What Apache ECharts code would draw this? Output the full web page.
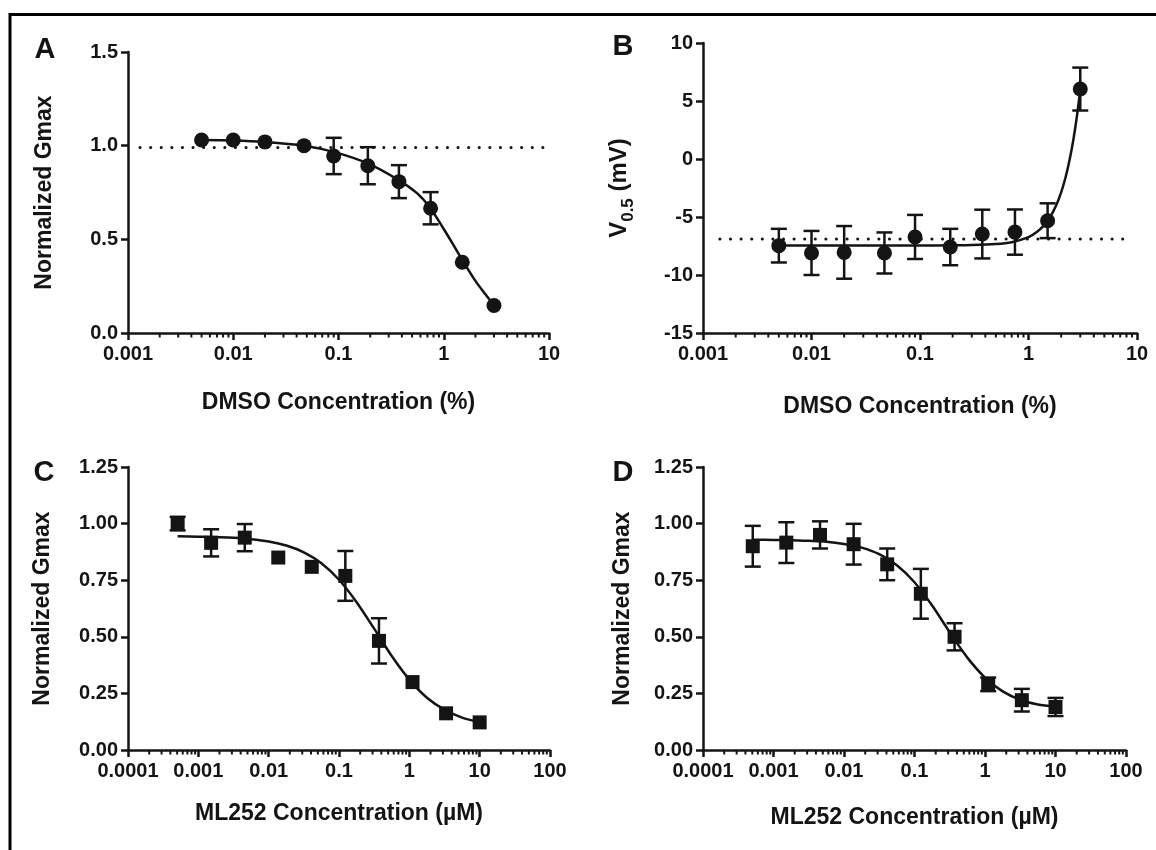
<!DOCTYPE html>
<html><head><meta charset="utf-8">
<script src="https://cdn.jsdelivr.net/npm/echarts@6/dist/echarts.min.js"></script>
<style>html,body{margin:0;padding:0;background:#fff}#c{width:1156px;height:850px}</style>
</head><body><div id="c"></div>
<script>
// ---------- Panel A : DMSO vs normalized Gmax ----------
const dmsoConc = [0.005, 0.01, 0.02, 0.047, 0.09, 0.19, 0.375, 0.75, 1.5, 3];
const gmaxA = [1.03, 1.03, 1.02, 1.0, 0.945, 0.893, 0.808, 0.666, 0.378, 0.147];
const errA = [0, 0, 0, 0, 0.097, 0.099, 0.088, 0.086, 0, 0];
const fitAx = [0.005, 0.01, 0.02, 0.047, 0.09, 0.19, 0.375, 0.56, 0.75, 1.0, 1.25, 1.5, 2.0, 2.5, 3.0];
const fitAy = [1.03, 1.028, 1.02, 1.0, 0.967, 0.905, 0.815, 0.745, 0.665, 0.555, 0.465, 0.39, 0.278, 0.205, 0.148];
const refA = [[0.0013, 0.99], [9.7, 0.99]];
// ---------- Panel B : DMSO vs V0.5 ----------
const v05B = [-7.47, -8.1, -8.05, -8.1, -6.72, -7.59, -6.47, -6.3, -5.32, 6.03];
const errB = [1.45, 1.9, 2.27, 1.77, 1.9, 1.57, 2.1, 1.95, 1.5, 1.85];
const fitBx = [0.005, 0.01, 0.02, 0.05, 0.1, 0.2, 0.3, 0.5, 0.7, 1.0, 1.2, 1.4, 1.6, 1.8, 2.0, 2.2, 2.4, 2.6, 2.8, 3.0];
const fitBy = [-7.45, -7.45, -7.45, -7.45, -7.45, -7.44, -7.42, -7.33, -7.17, -6.73, -6.27, -5.68, -4.92, -3.99, -2.87, -1.55, -0.01, 1.75, 3.75, 6.0];
const refB = [[0.00143, -6.9], [8.8, -6.9]];
// ---------- Panels C, D : ML252 vs normalized Gmax ----------
const mlConc = [0.000508, 0.00152, 0.00457, 0.0137, 0.041, 0.123, 0.37, 1.11, 3.33, 10];
const gmaxC = [1.0, 0.915, 0.938, 0.85, 0.809, 0.769, 0.482, 0.3, 0.162, 0.122];
const errC = [0.03, 0.06, 0.06, 0, 0, 0.11, 0.1, 0, 0, 0];
const fitCDx = [0.000508, 0.001, 0.00178, 0.00316, 0.00562, 0.01, 0.0178, 0.0316, 0.0562, 0.1, 0.178, 0.316, 0.562, 1.0, 1.78, 3.16, 5.62, 10];
const fitCy = [0.944, 0.942, 0.941, 0.937, 0.931, 0.921, 0.903, 0.873, 0.825, 0.752, 0.653, 0.536, 0.415, 0.311, 0.231, 0.178, 0.143, 0.123];
const gmaxD = [0.9, 0.916, 0.95, 0.909, 0.82, 0.69, 0.5, 0.29, 0.22, 0.19];
const errD = [0.09, 0.09, 0.06, 0.09, 0.07, 0.11, 0.06, 0.03, 0.05, 0.04];
const fitDy = [0.929, 0.928, 0.927, 0.924, 0.92, 0.91, 0.894, 0.865, 0.816, 0.741, 0.638, 0.52, 0.408, 0.32, 0.259, 0.222, 0.201, 0.192];
// ---------- axes ----------
const xRangeDMSO = [0.001, 10];
const xRangeML = [0.0001, 100];
const minorMult = [2, 3, 4, 5, 6, 7, 8, 9];
const decadesDMSO = [0.001, 0.01, 0.1, 1];
const decadesML = [0.0001, 0.001, 0.01, 0.1, 1, 10];
const panelLetters = ['A', 'B', 'C', 'D'];
const xTitleDMSO = 'DMSO Concentration (%)';
const xTitleML = 'ML252 Concentration (µM)';
const yTitleG = 'Normalized Gmax';

const INK = '#141414';
const FONT = '"Liberation Sans", Arial, Helvetica, sans-serif';

const grids = [
  {left: 128, top: 52, width: 421, height: 281},
  {left: 703, top: 43, width: 434, height: 290},
  {left: 128, top: 467, width: 422, height: 283},
  {left: 703, top: 467, width: 423, height: 283}
];
const letterPos = [[45, 50], [623, 47], [44, 473], [623, 473]];

function xAxisCfg(gi, range, name, gap) {
  return {
    type: 'log', gridIndex: gi, logBase: 10, min: range[0], max: range[1],
    splitNumber: Math.round(Math.log10(range[1] / range[0])),
    axisLine: {show: true, onZero: false, lineStyle: {color: INK, width: 2.5}},
    axisTick: {show: true, length: 7, lineStyle: {color: INK, width: 2.5}},
    minorTick: {show: false},
    splitLine: {show: false},
    axisLabel: {
      formatter: v => String(+(+v).toPrecision(1)),
      fontSize: 20, fontWeight: 'bold', color: INK, fontFamily: FONT, margin: 11
    },
    name: name, nameLocation: 'middle', nameGap: gap,
    nameTextStyle: {fontSize: 23, fontWeight: 'bold', color: INK, fontFamily: FONT}
  };
}
function yAxisCfg(gi, min, max, interval, dec, name, gap, rich) {
  const c = {
    type: 'value', gridIndex: gi, min: min, max: max, interval: interval,
    axisLine: {show: true, onZero: false, lineStyle: {color: INK, width: 2.5}},
    axisTick: {show: true, length: 7, lineStyle: {color: INK, width: 2.5}},
    splitLine: {show: false},
    axisLabel: {
      formatter: v => v.toFixed(dec),
      fontSize: 20, fontWeight: 'bold', color: INK, fontFamily: FONT, margin: 10
    },
    name: name, nameLocation: 'middle', nameGap: gap,
    nameTextStyle: {fontSize: 23, fontWeight: 'bold', color: INK, fontFamily: FONT}
  };
  if (rich) c.nameTextStyle.rich = rich;
  return c;
}

function errSeries(gi, xs, ys, es) {
  return {
    type: 'custom', xAxisIndex: gi, yAxisIndex: gi, z: 3, silent: true, clip: false,
    data: xs.map((x, i) => [x, ys[i] - es[i], ys[i] + es[i]]),
    encode: {x: 0, y: [1, 2]},
    renderItem(params, api) {
      if (api.value(2) - api.value(1) <= 0) return {type: 'group', children: []};
      const x = api.value(0);
      const lo = api.coord([x, api.value(1)]);
      const hi = api.coord([x, api.value(2)]);
      const w = 8, st = {stroke: INK, lineWidth: 2.5};
      return {type: 'group', children: [
        {type: 'line', shape: {x1: lo[0], y1: lo[1], x2: hi[0], y2: hi[1]}, style: st},
        {type: 'line', shape: {x1: lo[0] - w, y1: lo[1], x2: lo[0] + w, y2: lo[1]}, style: st},
        {type: 'line', shape: {x1: hi[0] - w, y1: hi[1], x2: hi[0] + w, y2: hi[1]}, style: st}
      ]};
    }
  };
}
function minorSeries(gi, decades, yMin) {
  const vals = [];
  decades.forEach(d => minorMult.forEach(m => vals.push([d * m, yMin])));
  return {
    type: 'custom', xAxisIndex: gi, yAxisIndex: gi, z: 4, silent: true, clip: false,
    data: vals, encode: {x: 0, y: 1},
    renderItem(params, api) {
      const p = api.coord([api.value(0), api.value(1)]);
      return {type: 'line', shape: {x1: p[0], y1: p[1], x2: p[0], y2: p[1] + 4.5},
        style: {stroke: INK, lineWidth: 2}};
    }
  };
}
function fitSeries(gi, xs, ys) {
  return {
    type: 'line', xAxisIndex: gi, yAxisIndex: gi, z: 2, silent: true,
    data: xs.map((x, i) => [x, ys[i]]), showSymbol: false, symbol: 'none',
    smooth: 0.3,
    lineStyle: {color: INK, width: 2.5}
  };
}
function refSeries(gi, pts) {
  return {
    type: 'line', xAxisIndex: gi, yAxisIndex: gi, z: 1, silent: true,
    data: pts, symbol: 'none',
    lineStyle: {color: INK, width: 3, type: [0.1, 10.5], cap: 'round'}
  };
}
function ptSeries(gi, xs, ys, symbol, size) {
  return {
    type: 'scatter', xAxisIndex: gi, yAxisIndex: gi, z: 5, silent: true,
    data: xs.map((x, i) => [x, ys[i]]), symbol: symbol, symbolSize: size,
    itemStyle: {color: INK, opacity: 1}
  };
}

const vRich = {
  m: {fontSize: 24, fontWeight: 'bold', color: INK, fontFamily: FONT, lineHeight: 26, verticalAlign: 'middle'},
  s: {fontSize: 17, fontWeight: 'bold', color: INK, fontFamily: FONT, lineHeight: 35, verticalAlign: 'bottom'}
};

const option = {
  animation: false,
  backgroundColor: '#fff',
  grid: grids.map(g => Object.assign({containLabel: false, outerBoundsMode: 'none'}, g)),
  xAxis: [
    xAxisCfg(0, xRangeDMSO, xTitleDMSO, 58),
    xAxisCfg(1, xRangeDMSO, xTitleDMSO, 62),
    xAxisCfg(2, xRangeML, xTitleML, 52),
    xAxisCfg(3, xRangeML, xTitleML, 56)
  ],
  yAxis: [
    yAxisCfg(0, 0, 1.5, 0.5, 1, yTitleG, 72),
    yAxisCfg(1, -15, 10, 5, 0, '{m|V}{s|0.5}{m| (mV)}', 66, vRich),
    yAxisCfg(2, 0, 1.25, 0.25, 2, yTitleG, 74),
    yAxisCfg(3, 0, 1.25, 0.25, 2, yTitleG, 69)
  ],
  graphic: [
    {type: 'polyline', silent: true, z: 10,
     shape: {points: [[10, 850], [10, 14.5], [1156, 14.5]]},
     style: {stroke: '#000', lineWidth: 3, fill: null}}
  ].concat(panelLetters.map((t, i) => ({
    type: 'text', x: letterPos[i][0], y: letterPos[i][1], silent: true,
    style: {text: t, fontSize: 29, fontWeight: 'bold', fill: INK, fontFamily: FONT,
            textAlign: 'center', textVerticalAlign: 'middle'}
  }))),
  series: [
    refSeries(0, refA), fitSeries(0, fitAx, fitAy), errSeries(0, dmsoConc, gmaxA, errA),
    ptSeries(0, dmsoConc, gmaxA, 'circle', 15), minorSeries(0, decadesDMSO, 0),
    refSeries(1, refB), fitSeries(1, fitBx, fitBy), errSeries(1, dmsoConc, v05B, errB),
    ptSeries(1, dmsoConc, v05B, 'circle', 15), minorSeries(1, decadesDMSO, -15),
    fitSeries(2, fitCDx, fitCy), errSeries(2, mlConc, gmaxC, errC),
    ptSeries(2, mlConc, gmaxC, 'rect', 14), minorSeries(2, decadesML, 0),
    fitSeries(3, fitCDx, fitDy), errSeries(3, mlConc, gmaxD, errD),
    ptSeries(3, mlConc, gmaxD, 'rect', 14), minorSeries(3, decadesML, 0)
  ]
};
const chart = echarts.init(document.getElementById('c'), null, {renderer: 'canvas'});
chart.setOption(option);
</script>
</body></html>
